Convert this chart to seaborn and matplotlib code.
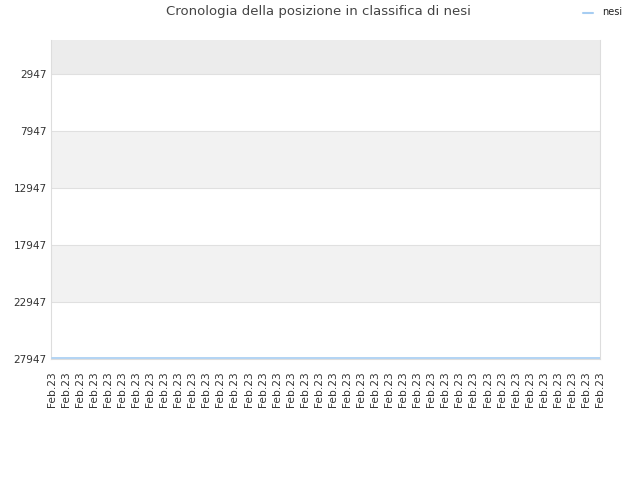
import matplotlib
matplotlib.use("Agg")
import matplotlib.pyplot as plt
import seaborn as sns
import pandas as pd

# Data
dates = ["Feb.23"] * 40
ranks = [27900] * 40
series_name = "nesi"
yticks = [2947, 7947, 12947, 17947, 22947, 27947]
title = "Cronologia della posizione in classifica di nesi"

sns.set_theme(style="white")
plt.rcParams['font.family'] = ['DejaVu Sans']

df = pd.DataFrame({"pos": range(len(dates)), "rank": ranks, "name": series_name})

fig = plt.figure(figsize=(6.4, 4.8), dpi=100)
ax = fig.add_axes([51/640, 1 - 359/480, 549/640, 319/480])

# alternating bands
bounds = [1] + yticks
for i in range(len(bounds) - 1):
    if i % 2 == 0:
        col = "#ececec" if i == 0 else "#f2f2f2"
        ax.axhspan(bounds[i], bounds[i + 1], color=col, zorder=0, lw=0)

sns.lineplot(data=df, x="pos", y="rank", ax=ax, color="#a6cdf2", lw=1.2,
             label=series_name, legend=False, zorder=3)

ax.set_ylim(27947, 1)
ax.set_xlim(-0.05, len(dates) - 1)
ax.set_yticks(yticks)
ax.set_yticklabels([str(v) for v in yticks], fontsize=7.5, color="#333333")
ax.set_xticks(range(len(dates)))
ax.set_xticklabels(dates, rotation=90, fontsize=7.7, color="#333333")
ax.tick_params(axis="y", length=0, pad=3)
ax.tick_params(axis="x", length=0, pad=9)
for yv in yticks:
    ax.axhline(yv, color="#e0e0e0", lw=0.8, zorder=1)
ax.set_xlabel("")
ax.set_ylabel("")
for s in ["left", "right", "top", "bottom"]:
    ax.spines[s].set_color("#dddddd")
    ax.spines[s].set_linewidth(0.8)
ax.spines["top"].set_visible(False)

fig.text(0.498, 1 - 12/480, title, ha="center", va="center", fontsize=9.5, color="#444444")
fig.lines.append(plt.Line2D([583/640, 593/640], [1 - 13/480, 1 - 13/480],
                            transform=fig.transFigure, color="#a6cdf2", lw=1.5))
fig.text(602/640, 1 - 12/480, series_name, ha="left", va="center", fontsize=7, color="#222222")

fig.savefig("out.png", dpi=100)
